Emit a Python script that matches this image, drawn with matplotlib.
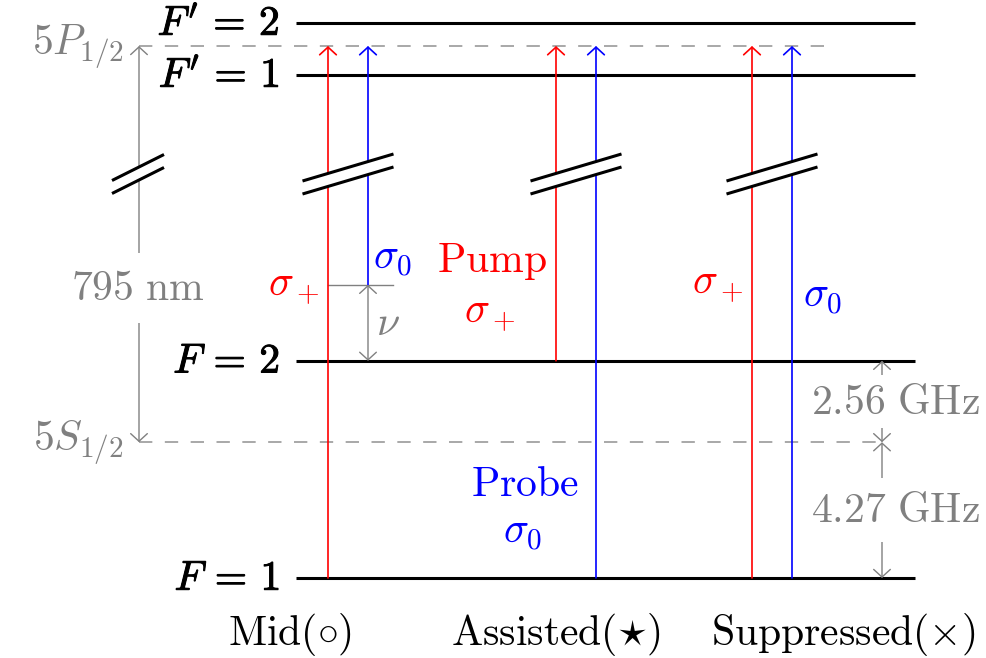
import matplotlib.pyplot as plt
from matplotlib.patches import FancyArrowPatch, Polygon
import matplotlib.patheffects as pe

plt.rcParams['mathtext.fontset'] = 'cm'

# --- level scheme (drawing units, y up) ---
ghz_scale = 31.8                      # drawing units per GHz below the break
ground_split = [4.27, 2.56]           # F=1 -> 5S1/2, 5S1/2 -> F=2 (GHz)
ground_labels = [r"$F\,=\,1$", r"$F\,=\,2$"]
excited_labels = [r"$F'\,=\,1$", r"$F'\,=\,2$"]
excited_levels = [503, 555]           # schematic, above the break
p_centroid = 532                      # 5P1/2 reference line
nu_detuning = 76                      # probe detuning in the Mid case

f1 = 0.0
s_centroid = ground_split[0] * ghz_scale
f2 = (ground_split[0] + ground_split[1]) * ghz_scale
ground_levels = [f1, f2]

# three configurations: pump (red) and probe (blue) starting levels
columns = ["Mid", "Assisted", "Suppressed"]
column_tags = [r"$\mathrm{Mid}(\circ)$", r"$\mathrm{Assisted}(\star)$",
               r"$\mathrm{Suppressed}(\times)$"]
column_x = [348, 576, 772]
pump_start = [f1, f2, f1]
probe_start = [f2 + nu_detuning, f1, f1]

RED, BLUE, GRAY = '#ff0000', '#0000ff', '#808080'
FS = 30

fig = plt.figure(figsize=(9.86, 6.58), dpi=100)
ax = fig.add_axes([0, 0, 1, 1])
ax.set_xlim(0, 986)
ax.set_ylim(-80, 578)
ax.axis('off')


def arrow(x0, y0, x1, y1, color, lw=1.2, style='->', z=3):
    ax.add_patch(FancyArrowPatch((x0, y0), (x1, y1),
                                 arrowstyle=f'{style},head_length=0.55,head_width=0.6',
                                 mutation_scale=10, color=color, lw=lw,
                                 shrinkA=0, shrinkB=0, zorder=z))


def break_mark(cx, cy, half_w, rise, gap=13):
    # two slanted strokes with the paper blanked out between them
    xs = [cx - half_w, cx + half_w]
    up = [cy + gap / 2 - rise, cy + gap / 2 + rise]
    lo = [cy - gap / 2 - rise, cy - gap / 2 + rise]
    ax.add_patch(Polygon([(xs[0], lo[0]), (xs[1], lo[1]), (xs[1], up[1]), (xs[0], up[0])],
                         closed=True, fc='white', ec='none', zorder=4))
    ax.plot(xs, up, color='black', lw=2.2, zorder=5, solid_capstyle='butt')
    ax.plot(xs, lo, color='black', lw=2.2, zorder=5, solid_capstyle='butt')


bold = [pe.withStroke(linewidth=0.7, foreground='black')]

# hyperfine levels
for lvl, lab in zip(ground_levels + excited_levels, ground_labels + excited_labels):
    ax.plot([296, 915], [lvl, lvl], color='black', lw=2.2, zorder=2, solid_capstyle='butt')
    ax.text(280, lvl, lab, fontsize=FS, ha='right', va='center', color='black',
            path_effects=bold)

# fine-structure reference lines
dash = (0, (8.0, 7.5))
ax.plot([139, 835], [p_centroid, p_centroid], color='#999999', lw=1.2, ls=dash, zorder=1)
ax.plot([139, 882], [s_centroid, s_centroid], color='#999999', lw=1.2, ls=dash, zorder=1)
ax.text(124, p_centroid, r'$5P_{1/2}$', fontsize=FS, ha='right', va='center', color=GRAY)
ax.text(124, s_centroid, r'$5S_{1/2}$', fontsize=FS, ha='right', va='center', color=GRAY)

# D1 line, 795 nm
arrow(139, s_centroid, 139, p_centroid, GRAY, lw=1.0, style='<->')
ax.text(138, 290, r'$795\ \mathrm{nm}$', fontsize=FS, ha='center', va='center', color=GRAY,
        zorder=4, bbox=dict(fc='white', ec='none', pad=10))
break_mark(138, 404, 26, 13)

# pump / probe transitions
for cx, ps, qs in zip(column_x, pump_start, probe_start):
    arrow(cx - 20, ps, cx - 20, p_centroid, RED)
    arrow(cx + 20, qs, cx + 20, p_centroid, BLUE)
    break_mark(cx, 404, 45.5, 13.5)

# Mid: probe detuning nu from F=2
mid = column_x[0]
ax.plot([mid - 20, mid + 45], [probe_start[0], probe_start[0]], color=GRAY, lw=1.0, zorder=2)
arrow(mid + 20, f2, mid + 20, probe_start[0], GRAY, lw=1.0, style='<->')
ax.text(mid + 40, f2 + 38, r'$\nu$', fontsize=FS, ha='center', va='center', color=GRAY)
ax.text(mid - 28, probe_start[0], r'$\sigma_+$', fontsize=FS, ha='right', va='center', color=RED)
ax.text(mid + 25, 320, r'$\sigma_0$', fontsize=FS, ha='left', va='center', color=BLUE)

# Assisted: labelled beams
asst = column_x[1]
ax.text(asst - 84, 317, r'$\mathrm{Pump}$', fontsize=FS, ha='center', va='center', color=RED)
ax.text(asst - 86, 266, r'$\sigma_+$', fontsize=FS, ha='center', va='center', color=RED)
ax.text(asst - 51, 94, r'$\mathrm{Probe}$', fontsize=FS, ha='center', va='center', color=BLUE)
ax.text(asst - 53, 46, r'$\sigma_0$', fontsize=FS, ha='center', va='center', color=BLUE)

# Suppressed
sup = column_x[2]
ax.text(sup - 54, 295, r'$\sigma_+$', fontsize=FS, ha='center', va='center', color=RED)
ax.text(sup + 51, 282, r'$\sigma_0$', fontsize=FS, ha='center', va='center', color=BLUE)

# ground-state hyperfine splittings
arrow(882, s_centroid, 882, f2, GRAY, lw=1.0, style='<->')
arrow(882, f1, 882, s_centroid, GRAY, lw=1.0, style='<->')
ax.text(895, (s_centroid + f2) / 2, r'$%.2f\ \mathrm{GHz}$' % ground_split[1], fontsize=FS,
        ha='center', va='center', color=GRAY, zorder=4, bbox=dict(fc='white', ec='none', pad=4))
ax.text(895, (f1 + s_centroid) / 2, r'$%.2f\ \mathrm{GHz}$' % ground_split[0], fontsize=FS,
        ha='center', va='center', color=GRAY, zorder=4, bbox=dict(fc='white', ec='none', pad=8))

# configuration names
for x, tag in zip([290, 556, 843], column_tags):
    ax.text(x, -57, tag, fontsize=FS, ha='center', va='center', color='black')

fig.savefig('out.png', dpi=100)
